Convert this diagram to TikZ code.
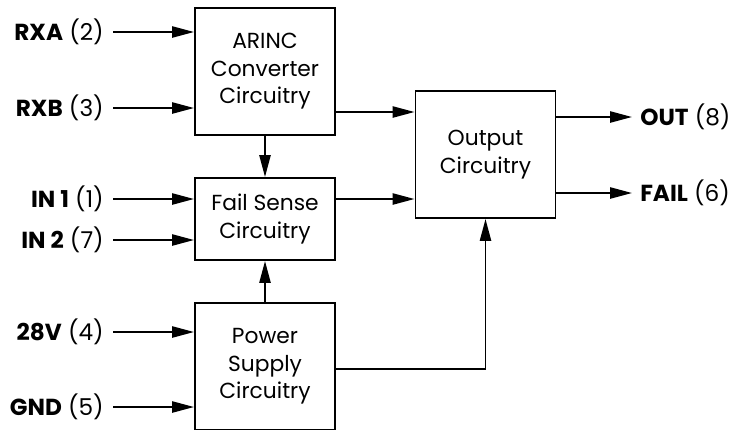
\documentclass[tikz,border=0pt]{standalone}
\usepackage{fontspec}
\setmainfont{Poppins}
\usepackage{tikz}
\usetikzlibrary{positioning,arrows.meta}

\begin{document}
\begin{tikzpicture}[
    box/.style={rectangle,draw,line width=1.4pt,minimum width=3.5cm,minimum height=3.175cm,align=center,font=\fontsize{15.5}{19.5}\selectfont},
    pin/.style={anchor=east,inner xsep=0.225cm,inner ysep=0pt,font=\fontsize{16.5}{18}\selectfont},
    pout/.style={anchor=west,inner xsep=0.2cm,inner ysep=0pt,font=\fontsize{16.5}{18}\selectfont},
    arrow/.style={-{Triangle[length=0.55cm,width=0.28cm]},line width=1.4pt}]
    \useasboundingbox (0,0) rectangle (18.25,-10.725);
    \node[box] (arinc) at (6.625,-1.7875) {ARINC\\Converter\\Circuitry};
    \node[box,minimum height=2.05cm] (fail) at (6.625,-5.475) {Fail Sense\\Circuitry};
    \node[box] (power) at (6.625,-9.1625) {Power\\Supply\\Circuitry};
    \node[box] (outp) at (12.1375,-3.8625) {Output\\Circuitry};
    % pins in
    \node[pin] (rxa) at (2.825,-0.8) {\textbf{RXA} (2)};
    \node[pin] (rxb) at (2.825,-2.7) {\textbf{RXB} (3)};
    \node[pin] (in1) at (2.825,-4.975) {\textbf{IN 1} (1)};
    \node[pin] (in2) at (2.825,-6.0) {\textbf{IN 2} (7)};
    \node[pin] (v28) at (2.825,-8.3) {\textbf{28V} (4)};
    \node[pin] (gnd) at (2.825,-10.175) {\textbf{GND} (5)};
    % pins out
    \node[pout] (out) at (15.8,-2.925) {\textbf{OUT} (8)};
    \node[pout] (flt) at (15.8,-4.825) {\textbf{FAIL} (6)};
    \draw[arrow](rxa)--(rxa-|arinc.west);\draw[arrow](rxb)--(rxb-|arinc.west);
    \draw[arrow](in1)--(in1-|fail.west);\draw[arrow](in2)--(in2-|fail.west);
    \draw[arrow](v28)--(v28-|power.west);\draw[arrow](gnd)--(gnd-|power.west);
    \draw[arrow](arinc)--(fail);\draw[arrow](power)--(fail);
    \draw[arrow]([yshift=-1.0125cm]arinc.east)--([yshift=-1.0125cm]arinc.east-|outp.west);
    \draw[arrow]([yshift=0.5cm]fail.east)--([yshift=0.5cm]fail.east-|outp.west);
    \draw[arrow]([yshift=-0.06cm]power.east)-|(outp.south);
    \draw[arrow](out-|outp.east)--(out);
    \draw[arrow](flt-|outp.east)--(flt);
\end{tikzpicture}
\end{document}
